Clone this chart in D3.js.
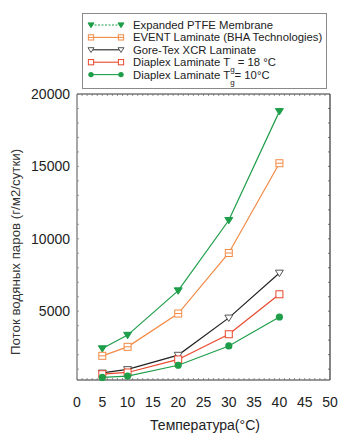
<!DOCTYPE html>
<html>
<head>
<meta charset="utf-8">
<script src="https://cdn.jsdelivr.net/npm/d3@7"></script>
<style>
  body { margin: 0; background: #fff; }
  text { font-family: "Liberation Sans", Arial, sans-serif; }
</style>
</head>
<body>
<div id="chart"></div>
<script>
const temps = [5, 10, 20, 30, 40];
const ptfe = [2420, 3350, 6420, 11280, 18800];
const eventLam = [1920, 2540, 4840, 9020, 15220];
const goreTex = [740, 980, 1970, 4540, 7640];
const diaplex18 = [650, 770, 1670, 3410, 6170];
const diaplex10 = [430, 520, 1270, 2600, 4600];
const xTicks = [0, 5, 10, 15, 20, 25, 30, 35, 40, 45, 50];
const yTicks = [5000, 10000, 15000, 20000];

const series = [
  {name: "Expanded PTFE Membrane", values: ptfe, color: "#1f9e4a", marker: "tri", fill: true, legendDash: "2,1.5"},
  {name: "EVENT Laminate (BHA Technologies)", values: eventLam, color: "#f28a45", marker: "sqline", fill: false},
  {name: "Gore-Tex XCR Laminate", values: goreTex, color: "#222", marker: "tri", fill: false, markColor: "#555"},
  {name: "Diaplex Laminate T", sub: "g", tail: " = 18 °C", values: diaplex18, color: "#e8482c", marker: "sq", fill: false},
  {name: "Diaplex Laminate T", sub: "g", tail: "= 10°C", values: diaplex10, color: "#1f9e4a", marker: "circle", fill: true}
];

const width = 350, height = 439;
const margin = {top: 94, left: 77, right: 20, bottom: 59};

const svg = d3.select("#chart").append("svg")
  .attr("width", width)
  .attr("height", height);

const x = d3.scaleLinear().domain([0, 50]).range([margin.left, width - margin.right]);
const y = d3.scaleLinear().domain([250, 20000]).range([height - margin.bottom, margin.top]);

// frame
svg.append("line").attr("x1", x(0)).attr("x2", x(0)).attr("y1", y.range()[0]).attr("y2", y.range()[1])
  .attr("stroke", "#8a8a8a").attr("stroke-width", 1.5);
svg.append("line").attr("x1", x(50)).attr("x2", x(50)).attr("y1", y.range()[0]).attr("y2", y.range()[1])
  .attr("stroke", "#333").attr("stroke-width", 1.2);
svg.append("line").attr("x1", x(0)).attr("x2", x(50)).attr("y1", y.range()[1]).attr("y2", y.range()[1])
  .attr("stroke", "#333").attr("stroke-width", 1);
svg.append("line").attr("x1", x(0)).attr("x2", x(50)).attr("y1", y.range()[0]).attr("y2", y.range()[0])
  .attr("stroke", "#333").attr("stroke-width", 1.2);

// minor ticks inside
const xMinor = d3.range(1, 50);
svg.append("g").selectAll("line").data(xMinor).join("line")
  .attr("x1", d => x(d)).attr("x2", d => x(d))
  .attr("y1", y.range()[1]).attr("y2", y.range()[1] + 2)
  .attr("stroke", "#666").attr("stroke-width", 0.7);
svg.append("g").selectAll("line").data(xMinor).join("line")
  .attr("x1", d => x(d)).attr("x2", d => x(d))
  .attr("y1", y.range()[0]).attr("y2", y.range()[0] - 2)
  .attr("stroke", "#666").attr("stroke-width", 0.7);
const yMinor = d3.range(1000, 20000, 1000);
svg.append("g").selectAll("line").data(yMinor).join("line")
  .attr("x1", x(0)).attr("x2", x(0) + 2)
  .attr("y1", d => y(d)).attr("y2", d => y(d))
  .attr("stroke", "#888").attr("stroke-width", 0.8);
svg.append("g").selectAll("line").data(yMinor).join("line")
  .attr("x1", x(50)).attr("x2", x(50) - 2)
  .attr("y1", d => y(d)).attr("y2", d => y(d))
  .attr("stroke", "#555").attr("stroke-width", 0.8);

// tick labels
svg.append("g").selectAll("text").data(xTicks).join("text")
  .attr("x", d => x(d)).attr("y", 407)
  .attr("text-anchor", "middle").attr("font-size", 14).attr("fill", "#222")
  .text(d => d);
svg.append("g").selectAll("text").data(yTicks).join("text")
  .attr("x", 70).attr("y", d => y(d) + 5)
  .attr("text-anchor", "end").attr("font-size", 14).attr("fill", "#222")
  .text(d => d);

// axis titles
svg.append("text").attr("x", 205).attr("y", 430)
  .attr("text-anchor", "middle").attr("font-size", 14).attr("fill", "#222")
  .text("Температура(°C)");
svg.append("text").attr("transform", "translate(20,252) rotate(-90)")
  .attr("text-anchor", "middle").attr("font-size", 13.3).attr("fill", "#333")
  .text("Поток водяных паров (г/м2/сутки)");

function drawMarker(g, s, cx, cy, k) {
  k = k || 1;
  const mc = s.markColor || s.color;
  if (s.marker === "tri") {
    const r = 4 * k;
    g.append("path")
      .attr("d", `M${cx - r},${cy - r * 0.7}L${cx + r},${cy - r * 0.7}L${cx},${cy + r * 0.9}Z`)
      .attr("fill", s.fill ? mc : "#fff").attr("stroke", mc).attr("stroke-width", 1);
  } else if (s.marker === "sq" || s.marker === "sqline") {
    const r = 3.5 * k;
    g.append("rect").attr("x", cx - r).attr("y", cy - r).attr("width", 2 * r).attr("height", 2 * r)
      .attr("fill", "#fff").attr("stroke", mc).attr("stroke-width", 1);
    if (s.marker === "sqline")
      g.append("line").attr("x1", cx - r).attr("x2", cx + r).attr("y1", cy).attr("y2", cy)
        .attr("stroke", mc).attr("stroke-width", 1);
  } else {
    g.append("circle").attr("cx", cx).attr("cy", cy).attr("r", 3.6 * k).attr("fill", mc);
  }
}

const line = d3.line().x(d => x(d[0])).y(d => y(d[1]));

series.forEach(s => {
  const pts = temps.map((t, i) => [t, s.values[i]]);
  svg.append("path").datum(pts)
    .attr("d", line).attr("fill", "none")
    .attr("stroke", s.color).attr("stroke-width", 1.2);
  const g = svg.append("g");
  pts.forEach(p => drawMarker(g, s, x(p[0]), y(p[1])));
});

// legend
const leg = svg.append("g");
leg.append("rect").attr("x", 82.5).attr("y", 13.5).attr("width", 244).attr("height", 75)
  .attr("fill", "#fff").attr("stroke", "#8a8a8a").attr("stroke-width", 1);
series.forEach((s, i) => {
  const cy = 25 + i * 12.4;
  const g = leg.append("g");
  g.append("line").attr("x1", 91).attr("x2", 121).attr("y1", cy).attr("y2", cy)
    .attr("stroke", s.color).attr("stroke-width", 1.1)
    .attr("stroke-dasharray", s.legendDash || null);
  drawMarker(g, s, 91, cy, 0.75);
  drawMarker(g, s, 121, cy, 0.75);
  const t = g.append("text").attr("x", 133).attr("y", cy + 4)
    .attr("font-size", 11.3).attr("fill", "#222");
  t.append("tspan").text(s.name);
  if (s.sub) {
    t.append("tspan").attr("dy", 6).attr("font-size", 8).text(s.sub);
    t.append("tspan").attr("dy", -6).text(s.tail);
  }
});
</script>
</body>
</html>
